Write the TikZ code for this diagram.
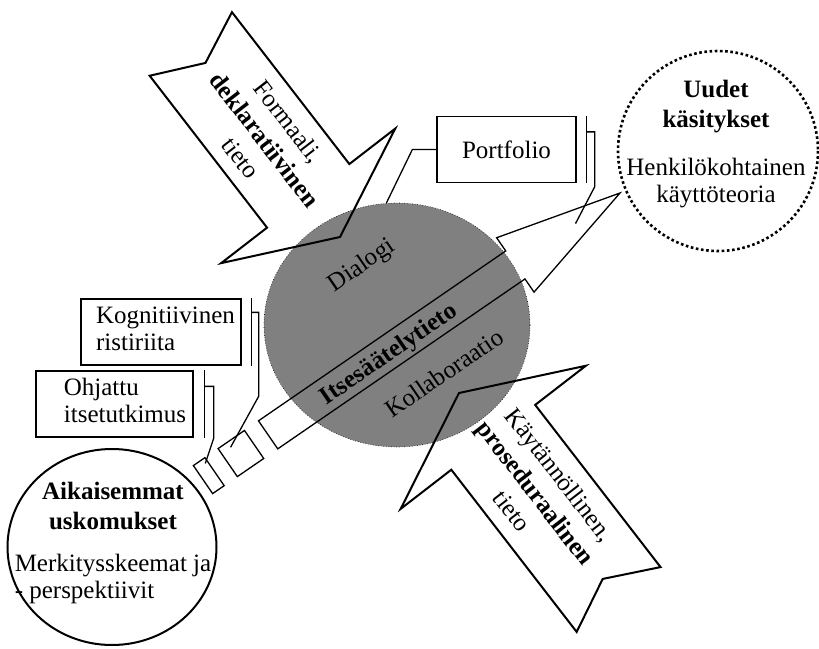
\documentclass[tikz,border=0pt]{standalone}
\usepackage{fontspec}
\setmainfont{Liberation Serif}
\usepackage{tikz}
\usetikzlibrary{shapes.geometric, positioning}

\begin{document}
\begin{tikzpicture}[
    x=1pt, y=-1pt,
    font=\fontsize{25}{27}\selectfont,
    box/.style={rectangle, draw, line width=1.3pt, fill=white,
                minimum height=66pt, inner sep=0pt},
    lead/.style={line width=1.3pt},
    bigarr/.style={draw, line width=2pt, line join=miter},
    longarr/.style={draw, line width=1.3pt, line join=miter},
    slanted/.style={rotate=34.5},
    fallen/.style={rotate=-52.3, align=center, font=\fontsize{25}{30}\selectfont},
    dots/.style={line width=2.6pt, dash pattern=on 2.6pt off 2.6pt},
  ]
  \useasboundingbox[fill=white] (0,0) rectangle (819,648);

  \node[ellipse, fill=black!50, draw, dotted, line width=0.6pt,
        minimum width=266pt, minimum height=244pt] (core) at (397,325) {};
  \node[slanted] (dialog) at (362,266) {Dialogi};
  \node[slanted] (collab) at (444,373) {Kollaboraatio};

  \begin{scope}[shift={(340,237)}, rotate=-52.3]
    \draw[bigarr] (-244,-52) -- (-220,0) -- (-244,52) -- (-52,52) -- (-52,110)
      -- (0,0) -- (-52,-110) -- (-52,-52) -- cycle;
    \node[fallen] (formal) at (-123,0) {Formaali,\\\textbf{deklaratiivinen}\\tieto};
  \end{scope}

  \begin{scope}[shift={(459,393)}, rotate=127.7]
    \draw[bigarr] (-261,-53) -- (-235,0) -- (-261,53) -- (-56,53) -- (-56,117)
      -- (0,0) -- (-56,-117) -- (-56,-53) -- cycle;
    \node[fallen] (practical) at (-126,0) {Käytännöllinen,\\\textbf{proseduraalinen}\\tieto};
  \end{scope}

  \begin{scope}[shift={(620,193)}, rotate=34.5]
    \draw[longarr] (-427,-17) -- (-127,-17) -- (-127,-33) -- (0,0)
      -- (-127,33) -- (-127,17) -- (-427,17) -- cycle;
    \draw[longarr] (-476,-17) -- (-444,-17) -- (-444,17) -- (-476,17) -- cycle;
    \draw[longarr] (-506,-17) -- (-492,-17) -- (-492,17) -- (-506,17) -- cycle;
    \node[slanted, font=\fontsize{25}{27}\selectfont\bfseries] (selfreg) at (-282,3) {Itsesäätelytieto};
    \coordinate (headspot) at (-54,0);
    \coordinate (squarespot) at (-465,-11);
    \coordinate (stripespot) at (-495,-12);
  \end{scope}

  \draw[dots] (718,151) circle [radius=100];
  \node[align=center] (newview) at (716,144)
    {\textbf{Uudet}\\[3pt]\textbf{käsitykset}\\[21pt]Henkilökohtainen\\käyttöteoria};

  \draw[line width=2pt] (112,547) ellipse [x radius=104.5, y radius=98];
  \node[align=center] (prior) at (113,544)
    {\textbf{Aikaisemmat}\\[3pt]\textbf{uskomukset}\\[15pt]%
     \begin{tabular}[t]{@{}l@{}}Merkitysskeemat ja\\- perspektiivit\end{tabular}};

  \node[box, minimum width=139pt] (port) at (506.5,149.5) {Portfolio};
  \node[box, minimum width=160pt] (cogn) at (161,332)
    {\hspace*{9pt}\begin{tabular}{@{}l@{}}Kognitiivinen\\ristiriita\end{tabular}};
  \node[box, minimum width=157pt] (guided) at (114.5,404)
    {\hspace*{21pt}\begin{tabular}{@{}l@{}}Ohjattu\\itsetutkimus\end{tabular}};

  \draw[lead] ([xshift=10pt]port.north east) -- ([xshift=10pt]port.south east);
  \draw[lead] ([xshift=10pt,yshift=-16pt]port.north east) -- ++(8,0) -- ++(0,55) -- (headspot);
  \draw[lead] (port.west) -- ++(-24,0) -- (core.95);

  \draw[lead] ([xshift=10pt]cogn.north east) -- ([xshift=10pt]cogn.south east);
  \draw[lead] ([xshift=10pt,yshift=-14pt]cogn.north east) -- ++(7,0) -- ++(0,84) -- (squarespot);

  \draw[lead] ([xshift=11pt]guided.north east) -- ([xshift=11pt]guided.south east);
  \draw[lead] ([xshift=11pt,yshift=-16pt]guided.north east) -- ++(9,0) -- ++(0,52) -- (stripespot);
\end{tikzpicture}
\end{document}
